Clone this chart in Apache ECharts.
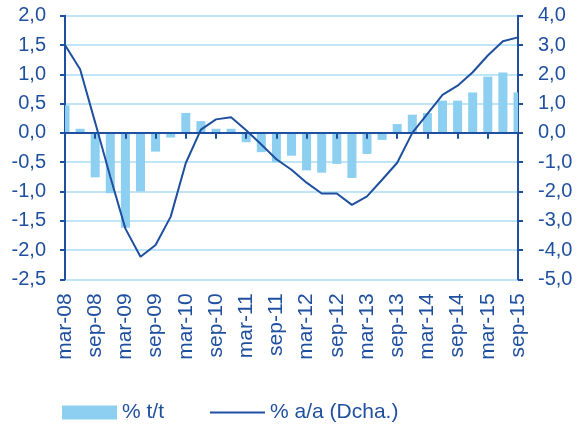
<!DOCTYPE html>
<html>
<head>
<meta charset="utf-8">
<script src="https://cdn.jsdelivr.net/npm/echarts@6/dist/echarts.min.js"></script>
<style>
html,body{margin:0;padding:0;background:#fff;}
#chart{width:579px;height:428px;}
</style>
</head>
<body>
<div id="chart"></div>
<script>
var categories = [
  'mar-08','jun-08','sep-08','dic-08',
  'mar-09','jun-09','sep-09','dic-09',
  'mar-10','jun-10','sep-10','dic-10',
  'mar-11','jun-11','sep-11','dic-11',
  'mar-12','jun-12','sep-12','dic-12',
  'mar-13','jun-13','sep-13','dic-13',
  'mar-14','jun-14','sep-14','dic-14',
  'mar-15','jun-15','sep-15'
];
var qoq = [0.47, 0.07, -0.76, -1.03, -1.62, -1.00, -0.32, -0.08, 0.34, 0.20, 0.07, 0.07, -0.16, -0.33, -0.50, -0.39, -0.64, -0.68, -0.53, -0.77, -0.36, -0.12, 0.15, 0.31, 0.34, 0.55, 0.55, 0.69, 0.96, 1.03, 0.69];
var yoy = [3.00, 2.17, 0.35, -1.50, -3.27, -4.23, -3.83, -2.86, -1.03, 0.11, 0.46, 0.53, 0.09, -0.40, -0.90, -1.26, -1.70, -2.07, -2.07, -2.46, -2.17, -1.60, -1.02, 0.00, 0.65, 1.30, 1.61, 2.07, 2.64, 3.13, 3.26];
var seriesNames = ['% t/t', '% a/a (Dcha.)'];

var dark = '#1f4f9f';
var barColor = '#8ccff0';
var gridColor = '#bfe5f7';
var font = 'Liberation Sans, Arial, sans-serif';
function fmt(v){ return v.toFixed(1).replace('.', ','); }

var barData = qoq.map(function(v, i){ return [i, v]; });

function renderBar(params, api){
  var x = api.value(0), v = api.value(1);
  var p = api.coord([x, v]);
  var p0 = api.coord([x, 0]);
  var w = 9;
  var cs = params.coordSys;
  var rect = echarts.graphic.clipRectByRect(
    {x: p[0] - w / 2, y: Math.min(p[1], p0[1]), width: w, height: Math.abs(p[1] - p0[1])},
    {x: cs.x, y: cs.y, width: cs.width, height: cs.height}
  );
  if (!rect) return null;
  return {type: 'rect', shape: rect, style: {fill: barColor}};
}

var chart = echarts.init(document.getElementById('chart'), null, {renderer:'canvas'});
chart.setOption({
  animation: false,
  backgroundColor: '#fff',
  grid: {left: 65, right: 61, top: 15.7, bottom: 148.7, containLabel: false},
  legend: {
    left: 57, top: 397,
    itemGap: 46,
    itemWidth: 55, itemHeight: 14,
    textStyle: {color: dark, fontSize: 21, fontFamily: font},
    data: [
      {name: seriesNames[0], icon: 'rect', itemStyle: {color: barColor}},
      {name: seriesNames[1], icon: 'path://M0,0 L52,0 L52,2 L0,2 Z', itemStyle: {color: dark}}
    ]
  },
  xAxis: [
    {
      type: 'category', data: categories, position: 'bottom', boundaryGap: false,
      axisLine: {show: false, onZero: false},
      axisTick: {show: false},
      axisLabel: {interval: 1, rotate: 90, margin: 14, color: dark, fontSize: 21, fontFamily: font}
    },
    {
      type: 'category', data: categories, position: 'bottom', boundaryGap: false, z: 3,
      axisLine: {show: true, onZero: true, onZeroAxisIndex: 0, lineStyle: {color: dark, width: 2}},
      axisTick: {show: true, interval: 1, length: 6, lineStyle: {color: dark, width: 2}},
      axisLabel: {show: false}
    }
  ],
  yAxis: [
    {
      type: 'value', position: 'left', min: -2.5, max: 2.0, interval: 0.5,
      axisLine: {show: true, onZero: false, lineStyle: {color: dark, width: 2}},
      axisTick: {show: true, length: 5, lineStyle: {color: dark, width: 2}},
      axisLabel: {margin: 19, color: dark, fontSize: 20, fontFamily: font, formatter: fmt},
      splitLine: {show: true, lineStyle: {color: gridColor, width: 2}}
    },
    {
      type: 'value', position: 'right', min: -5, max: 4, interval: 1,
      axisLine: {show: true, onZero: false, lineStyle: {color: dark, width: 2}},
      axisTick: {show: true, length: 5, lineStyle: {color: dark, width: 2}},
      axisLabel: {margin: 20, color: dark, fontSize: 20, fontFamily: font, formatter: fmt},
      splitLine: {show: false}
    }
  ],
  series: [
    {
      name: seriesNames[0], type: 'custom', xAxisIndex: 0, yAxisIndex: 0,
      renderItem: renderBar, data: barData,
      encode: {x: 0, y: 1},
      itemStyle: {color: barColor}, z: 2
    },
    {
      name: seriesNames[1], type: 'line', xAxisIndex: 0, yAxisIndex: 1,
      data: yoy, symbol: 'none', showSymbol: false, smooth: false, clip: true,
      lineStyle: {color: dark, width: 2}, itemStyle: {color: dark}, z: 4
    }
  ]
});
</script>
</body>
</html>
